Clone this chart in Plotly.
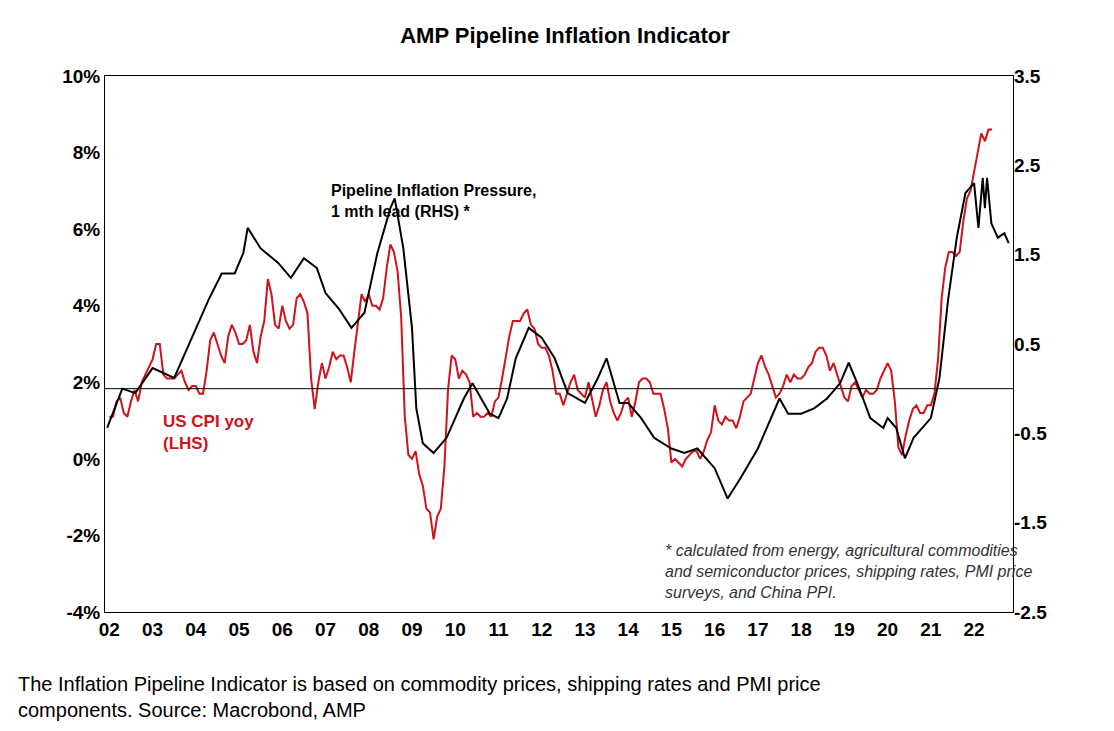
import plotly.graph_objects as go

cpi_yoy = [
1.1,1.1,1.5,1.6,1.2,1.1,1.5,1.8,1.5,2.0,2.2,2.4,
2.6,3.0,3.0,2.2,2.1,2.1,2.1,2.2,2.3,2.0,1.8,1.9,
1.9,1.7,1.7,2.3,3.1,3.3,3.0,2.7,2.5,3.2,3.5,3.3,
3.0,3.0,3.1,3.5,2.8,2.5,3.2,3.6,4.7,4.3,3.5,3.4,
4.0,3.6,3.4,3.5,4.2,4.3,4.1,3.8,2.1,1.3,2.0,2.5,
2.1,2.4,2.8,2.6,2.7,2.7,2.4,2.0,2.8,3.5,4.3,4.1,
4.3,4.0,4.0,3.9,4.2,5.0,5.6,5.4,4.9,3.7,1.1,0.1,
0.0,0.2,-0.4,-0.7,-1.3,-1.4,-2.1,-1.5,-1.3,-0.2,1.8,2.7,
2.6,2.1,2.3,2.2,2.0,1.1,1.2,1.1,1.1,1.2,1.1,1.5,
1.6,2.1,2.7,3.2,3.6,3.6,3.6,3.8,3.9,3.5,3.4,3.0,
2.9,2.9,2.7,2.3,1.7,1.7,1.4,1.7,2.0,2.2,1.8,1.7,
1.6,2.0,1.5,1.1,1.4,1.8,2.0,1.5,1.2,1.0,1.2,1.5,
1.6,1.1,1.5,2.0,2.1,2.1,2.0,1.7,1.7,1.7,1.3,0.8,
-0.1,0.0,-0.1,-0.2,0.0,0.1,0.2,0.2,0.0,0.2,0.5,0.7,
1.4,1.0,0.9,1.1,1.0,1.0,0.8,1.1,1.5,1.6,1.7,2.1,
2.5,2.7,2.4,2.2,1.9,1.6,1.7,1.9,2.2,2.0,2.2,2.1,
2.1,2.2,2.4,2.5,2.8,2.9,2.9,2.7,2.3,2.5,2.2,1.9,
1.6,1.5,1.9,2.0,1.8,1.6,1.8,1.7,1.7,1.8,2.1,2.3,
2.5,2.3,1.5,0.3,0.1,0.6,1.0,1.3,1.4,1.2,1.2,1.4,
1.4,1.7,2.6,4.2,5.0,5.4,5.4,5.3,5.4,6.2,6.8,7.0,
7.5,7.9,8.5,8.3,8.6,8.6]
cpi_x = [2002 + i/12 for i in range(len(cpi_yoy))]

pipe_x = [2001.95,2002.3,2002.6,2003.0,2003.5,2003.8,2004.0,2004.3,2004.6,2004.9,2005.1,2005.2,
          2005.5,2005.9,2006.2,2006.5,2006.8,2007.0,2007.3,2007.6,2007.9,2008.2,2008.5,2008.6,
          2008.8,2009.0,2009.1,2009.25,2009.5,2009.8,2010.0,2010.2,2010.4,2010.6,2010.8,2011.0,
          2011.2,2011.4,2011.7,2012.0,2012.3,2012.6,2013.0,2013.3,2013.5,2013.8,2014.0,2014.3,
          2014.6,2015.0,2015.3,2015.6,2016.0,2016.3,2016.6,2017.0,2017.3,2017.5,2017.7,2018.0,
          2018.3,2018.6,2018.9,2019.1,2019.3,2019.6,2019.9,2020.0,2020.2,2020.4,2020.6,2020.8,
          2021.0,2021.2,2021.4,2021.6,2021.8,2022.0,2022.1,2022.2,2022.25,2022.3,2022.4,2022.55,
          2022.7,2022.8]
pipe_val = [-0.44,0.0,-0.05,0.23,0.12,0.45,0.68,1.0,1.29,1.29,1.52,1.80,
            1.57,1.41,1.24,1.46,1.35,1.07,0.90,0.68,0.85,1.52,2.02,2.13,
            1.57,0.68,-0.22,-0.61,-0.72,-0.55,-0.33,-0.11,0.06,-0.11,-0.28,-0.33,
            -0.11,0.34,0.68,0.57,0.34,-0.05,-0.16,0.12,0.34,-0.16,-0.16,-0.33,
            -0.55,-0.67,-0.72,-0.67,-0.89,-1.23,-1.0,-0.67,-0.33,-0.11,-0.28,-0.28,
            -0.22,-0.11,0.06,0.29,0.06,-0.33,-0.44,-0.33,-0.44,-0.78,-0.55,-0.44,
            -0.33,0.12,1.0,1.69,2.19,2.30,1.80,2.36,2.02,2.36,1.85,1.69,
            1.74,1.63]

left_ticks = [-4, -2, 0, 2, 4, 6, 8, 10]
left_labels = ["<b>-4%</b>", "<b>-2%</b>", "<b>0%</b>", "<b>2%</b>", "<b>4%</b>", "<b>6%</b>", "<b>8%</b>", "<b>10%</b>"]
right_ticks = [-2.5, -1.5, -0.5, 0.5, 1.5, 2.5, 3.5]
right_labels = ["<b>-2.5</b>", "<b>-1.5</b>", "<b>-0.5</b>", "<b>0.5</b>", "<b>1.5</b>", "<b>2.5</b>", "<b>3.5</b>"]
years = list(range(2002, 2023))
year_labels = [f"<b>{y % 100:02d}</b>" for y in years]

fig = go.Figure()
fig.add_trace(go.Scatter(x=pipe_x, y=pipe_val, yaxis="y2", mode="lines",
                         line=dict(color="black", width=2), showlegend=False))
fig.add_trace(go.Scatter(x=cpi_x, y=cpi_yoy, mode="lines",
                         line=dict(color="#d0121b", width=2), showlegend=False))

tickfont = dict(family="Arial, Liberation Sans", size=19, color="black")
fig.update_layout(
    width=1114, height=731, paper_bgcolor="white", plot_bgcolor="white",
    margin=dict(l=97, r=109, t=68, b=127, autoexpand=False),
    font=dict(family="Arial, Liberation Sans", color="black"),
    title=dict(text="<b>AMP Pipeline Inflation Indicator</b>", x=0.5, xanchor="center",
               y=0.962, yanchor="middle", font=dict(size=22)),
    xaxis=dict(range=[2001.9, 2022.9], tickvals=years, ticktext=year_labels,
               tickfont=tickfont, showgrid=False, showline=True, linecolor="black",
               linewidth=1, mirror=True, ticks="", zeroline=False, automargin=False),
    yaxis=dict(range=[-4, 10], tickvals=left_ticks, ticktext=left_labels, tickfont=tickfont,
               showgrid=False, showline=True, linecolor="black", linewidth=1,
               mirror=True, zeroline=False, ticks="", automargin=False),
    yaxis2=dict(range=[-2.5, 3.5], tickvals=right_ticks, ticktext=right_labels, tickfont=tickfont,
                overlaying="y", side="right", showgrid=False, zeroline=False, ticks="",
                automargin=False),
)
fig.add_shape(type="line", xref="paper", x0=0, x1=1, yref="y2", y0=0, y1=0,
              line=dict(color="black", width=1))
fig.add_annotation(x=2009.5, y=2.1, yref="y2", xanchor="center", yanchor="middle",
                   text="<b>Pipeline Inflation Pressure,<br>1 mth lead (RHS) *</b>", showarrow=False,
                   align="left", font=dict(size=16, color="black"))
fig.add_annotation(x=2003.2, y=0.7, xanchor="left", yanchor="middle",
                   text="<b>US CPI yoy<br>(LHS)</b>", showarrow=False, align="left",
                   font=dict(size=17, color="#d0121b"))
fig.add_annotation(x=2014.8, y=-2.05, yref="y2", xanchor="left", yanchor="middle",
                   text="<i>* calculated from energy, agricultural commodities<br>and semiconductor prices, shipping rates, PMI price<br>surveys, and China PPI.</i>",
                   showarrow=False, align="left", font=dict(size=16, color="#333"))
fig.add_annotation(xref="paper", yref="paper", x=-0.098, y=-0.11, xanchor="left", yanchor="top",
                   text="The Inflation Pipeline Indicator is based on commodity prices, shipping rates and PMI price<br>components. Source: Macrobond, AMP",
                   showarrow=False, align="left", font=dict(size=20, color="black"))
fig.write_html("out.html")
